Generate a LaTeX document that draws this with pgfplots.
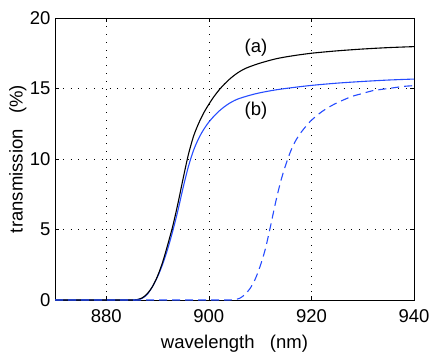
\documentclass[border=0pt]{standalone}
\usepackage{pgfplots}
\pgfplotsset{compat=1.18}
\usepackage{fontspec}
\setmainfont{Liberation Sans}
\definecolor{mblue}{rgb}{0.15,0.3,1}
\begin{document}
\begin{tikzpicture}
\begin{axis}[
  scale only axis, width=359bp, height=282bp,
  xmin=870, xmax=940, ymin=0, ymax=20,
  xtick={880,900,920,940}, ytick={0,5,10,15,20},
  tick align=inside, major tick length=4bp,
  grid=major,
  grid style={black, line width=0.5bp, dash pattern=on 0.8bp off 7bp},
  tick style={black, line width=0.6bp},
  axis line style={line width=0.8bp},
  font=\fontsize{18.5bp}{22bp}\selectfont,
  /pgf/number format/assume math mode=true,
  /pgf/number format/1000 sep={},
  xticklabel style={yshift=-6bp},
  yticklabel style={xshift=-1bp},
  xlabel={wavelength\ \ \ (nm)},
  ylabel={transmission\ \ \ (\%)},
  xlabel style={at={(axis description cs:0.5,0)}, anchor=base, yshift=-48bp},
  ylabel style={at={(axis description cs:-0.0905,0.5)}, anchor=base},
]
\addplot[mblue, line width=1.1bp, smooth] coordinates {
(870,0) (878,0) (884,0) (885,0) (886,0.02) (887,0.12) (888,0.4) (889,0.95) (890,1.65) (891,2.55) (892,3.65)
(893,4.95) (894,6.4) (895,8.0) (896,9.45) (897,10.6) (898,11.45) (899,12.1) (900,12.62)
(901,13.04) (902,13.4) (903,13.7) (904,13.95) (905,14.15) (906,14.3) (908,14.52)
(910,14.7) (913,14.9) (916,15.05) (920,15.22) (925,15.38) (930,15.5) (935,15.6) (940,15.67)
};
\addplot[black, line width=1.1bp, smooth] coordinates {
(870,0) (878,0) (884,0) (885,0) (886,0.03) (887,0.15) (888,0.45) (889,0.95) (890,1.7) (891,2.7) (892,3.95)
(893,5.3) (894,6.9) (895,8.65) (896,10.3) (897,11.6) (898,12.52) (899,13.27) (900,13.88)
(901,14.43) (902,14.9) (903,15.3) (904,15.65) (905,15.95) (906,16.2) (907,16.4) (908,16.55)
(910,16.8) (913,17.1) (916,17.3) (920,17.5) (925,17.67) (930,17.8) (935,17.9) (940,17.97)
};
\addplot[mblue, line width=1.1bp, smooth, dash pattern=on 8bp off 5bp] coordinates {
(870,0) (880,0) (890,0) (900,0) (903,0) (904,0) (905,0.03) (906,0.12) (907,0.38) (908,0.8) (909,1.45) (910,2.4) (911,3.6)
(912,5.2) (913,6.9) (914,8.4) (915,9.6) (916,10.6) (917,11.35) (918,11.9) (919,12.35)
(920,12.75) (922,13.35) (924,13.8) (926,14.15) (928,14.45) (930,14.65) (932,14.85)
(935,15.0) (938,15.15) (940,15.2)
};
\node[font=\fontsize{18.5bp}{22bp}\selectfont] at (axis cs:909.2,17.9) {(a)};
\node[font=\fontsize{18.5bp}{22bp}\selectfont] at (axis cs:909.2,13.4) {(b)};
\end{axis}
\pgfresetboundingbox
\path[use as bounding box] ([xshift=-55bp,yshift=-52bp]current axis.south west) rectangle ([xshift=22bp,yshift=18bp]current axis.north east);
\end{tikzpicture}
\end{document}
